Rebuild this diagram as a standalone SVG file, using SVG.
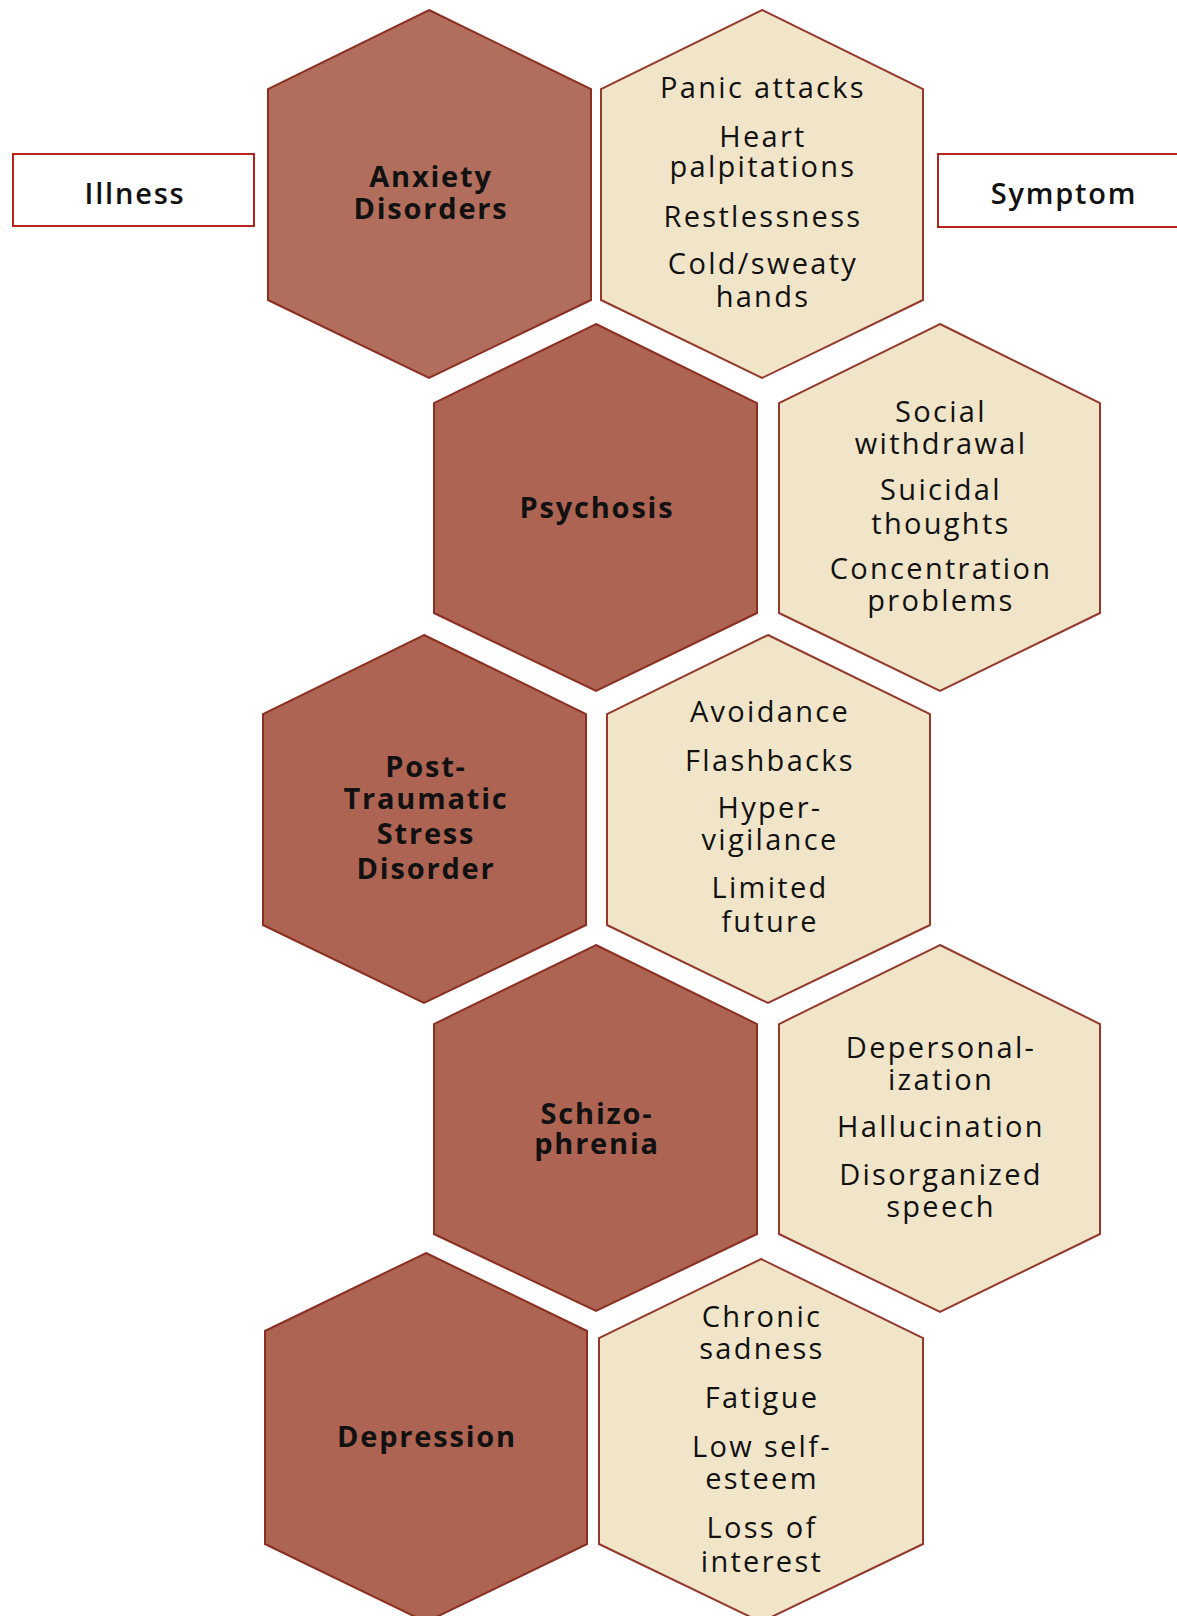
<svg xmlns="http://www.w3.org/2000/svg" width="1177" height="1616" viewBox="0 0 1177 1616">
<style>
.ill{fill:#ae6453;stroke:#8a2f22;stroke-width:2;stroke-linejoin:miter}
.ill1{fill:#b26e5c}
.sym{fill:#f1e5c9;stroke:#94392c;stroke-width:2}
.box{fill:#ffffff;stroke:#b5251c;stroke-width:2}
text{font-family:"Open Sans","Noto Sans","DejaVu Sans",sans-serif;text-anchor:middle;fill:#111}
.b{font-weight:700;font-size:29px;letter-spacing:1.8px}
.r{font-weight:400;font-size:29px;letter-spacing:2.3px}
.h{font-weight:600;font-size:29px;letter-spacing:1.8px}
</style>
<rect width="1177" height="1616" fill="#ffffff"/>
<g id="connectors"/>
<g id="illness-label"><rect class="box" x="13" y="154" width="241" height="72"/><text class="h" x="135" y="204">Illness</text></g>
<g id="symptom-label"><rect class="box" x="938" y="154" width="260" height="73"/><text class="h" x="1064" y="204">Symptom</text></g>

<g id="anxiety"><polygon class="ill ill1" points="429,10 591,89 591,300 429,378 268,300 268,89"/>
<text class="b" x="431" y="187">Anxiety</text><text class="b" x="431" y="219">Disorders</text></g>
<g id="anxiety-symptoms"><polygon class="sym" points="762,10 923,89 923,300 762,378 601,300 601,89"/>
<text class="r" x="763" y="98">Panic attacks</text>
<text class="r" x="763" y="147">Heart</text><text class="r" x="763" y="177">palpitations</text>
<text class="r" x="763" y="227">Restlessness</text>
<text class="r" x="763" y="274">Cold/sweaty</text><text class="r" x="763" y="307">hands</text></g>

<g id="psychosis"><polygon class="ill" points="596,324 757,403 757,613 596,691 434,613 434,403"/>
<text class="b" x="597" y="518">Psychosis</text></g>
<g id="psychosis-symptoms"><polygon class="sym" points="940,324 1100,403 1100,613 940,691 779,613 779,403"/>
<text class="r" x="941" y="422">Social</text><text class="r" x="941" y="454">withdrawal</text>
<text class="r" x="941" y="500">Suicidal</text><text class="r" x="941" y="534">thoughts</text>
<text class="r" x="941" y="579">Concentration</text><text class="r" x="941" y="611">problems</text></g>

<g id="ptsd"><polygon class="ill" points="424,635 586,714 586,925 424,1003 263,925 263,714"/>
<text class="b" x="426" y="777">Post-</text><text class="b" x="426" y="809">Traumatic</text>
<text class="b" x="426" y="844">Stress</text><text class="b" x="426" y="879">Disorder</text></g>
<g id="ptsd-symptoms"><polygon class="sym" points="768,635 930,714 930,925 768,1003 607,925 607,714"/>
<text class="r" x="770" y="722">Avoidance</text>
<text class="r" x="770" y="771">Flashbacks</text>
<text class="r" x="770" y="818">Hyper-</text><text class="r" x="770" y="850">vigilance</text>
<text class="r" x="770" y="898">Limited</text><text class="r" x="770" y="932">future</text></g>

<g id="schizophrenia"><polygon class="ill" points="596,945 757,1024 757,1234 596,1311 434,1234 434,1024"/>
<text class="b" x="597" y="1124">Schizo-</text><text class="b" x="597" y="1154">phrenia</text></g>
<g id="schizophrenia-symptoms"><polygon class="sym" points="940,945 1100,1024 1100,1234 940,1312 779,1234 779,1024"/>
<text class="r" x="941" y="1058">Depersonal-</text><text class="r" x="941" y="1090">ization</text>
<text class="r" x="941" y="1137">Hallucination</text>
<text class="r" x="941" y="1185">Disorganized</text><text class="r" x="941" y="1217">speech</text></g>

<g id="depression"><polygon class="ill" points="426,1253 587,1331 587,1544 426,1622 265,1544 265,1331"/>
<text class="b" x="427" y="1447">Depression</text></g>
<g id="depression-symptoms"><polygon class="sym" points="761,1259 923,1338 923,1544 761,1622 599,1544 599,1338"/>
<text class="r" x="762" y="1327">Chronic</text><text class="r" x="762" y="1359">sadness</text>
<text class="r" x="762" y="1408">Fatigue</text>
<text class="r" x="762" y="1457">Low self-</text><text class="r" x="762" y="1489">esteem</text>
<text class="r" x="762" y="1538">Loss of</text><text class="r" x="762" y="1572">interest</text></g>
</svg>
